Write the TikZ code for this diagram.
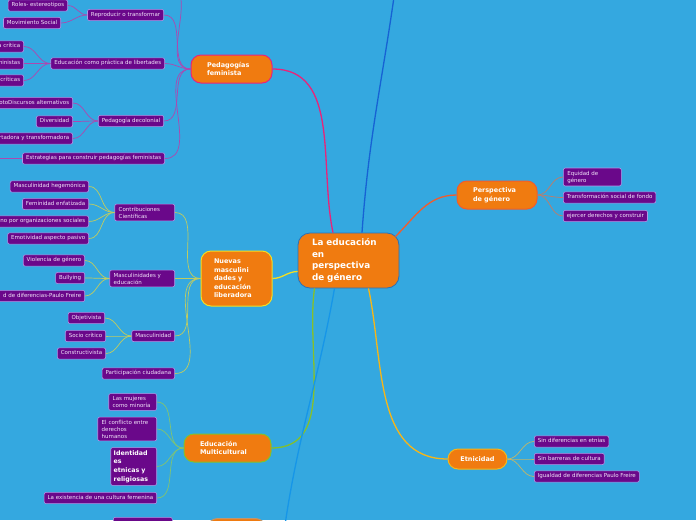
\documentclass[tikz,border=0pt]{standalone}
\usepackage{fontspec}
\setmainfont{DejaVu Sans}
\definecolor{bgblue}{RGB}{52,168,224}
\definecolor{leafbg}{RGB}{106,8,138}
\definecolor{leafline}{RGB}{176,150,232}
\definecolor{leaftext}{RGB}{242,228,250}
\definecolor{topicorange}{RGB}{240,123,16}
\definecolor{rootline}{RGB}{44,112,182}
\definecolor{pedpink}{RGB}{232,36,122}
\definecolor{pedchild}{RGB}{172,72,176}
\definecolor{mascyellow}{RGB}{242,222,36}
\definecolor{mascchild}{RGB}{192,204,96}
\definecolor{multigreen}{RGB}{132,192,44}
\definecolor{multichild}{RGB}{130,196,112}
\definecolor{persred}{RGB}{242,92,44}
\definecolor{perschild}{RGB}{192,124,104}
\definecolor{etnyellow}{RGB}{246,182,24}
\definecolor{etnchild}{RGB}{194,182,104}
\definecolor{topblue}{RGB}{22,98,212}
\definecolor{lowblue}{RGB}{22,150,232}
\definecolor{tanline}{RGB}{192,150,110}
\begin{document}
\begin{tikzpicture}[x=1pt,y=1pt,
  every node/.style={font=\fontsize{5.5}{7}\selectfont},
  leaf/.style={draw=leafline,fill=leafbg,text=leaftext,rounded corners=2pt,line width=0.6pt,
    inner xsep=3.5pt,inner ysep=3pt,text height=4pt,text depth=1.3pt},
  leafml/.style={draw=leafline,fill=leafbg,text=leaftext,rounded corners=2pt,line width=0.6pt,
    inner xsep=4pt,inner ysep=2.8pt,align=left,text width=#1},
  cutleaf/.style={leaf,text width=#1,align=right},
  topic/.style={fill=topicorange,rounded corners=10pt,line width=1pt,text=white,align=left,
    font=\bfseries\fontsize{6.5}{8.5}\selectfont},
  root/.style={fill=topicorange,draw=rootline,rounded corners=12pt,line width=0.8pt,text=white,align=left,
    font=\bfseries\fontsize{8.8}{11.5}\selectfont,inner xsep=14pt,text width=73pt,minimum height=55pt},
  mainline/.style={line width=1.3pt},
  childline/.style={line width=0.7pt}]
  \useasboundingbox (0,0) rectangle (696,-520);
  \fill[bgblue] (0,0) rectangle (696,-520);
  \clip (0,0) rectangle (696,-520);

  % Nodes: centre and topics
  \node[root] (root) at (348.5,-260.5) {La educación\\en\\perspectiva\\de género};
  \node[topic,draw=pedpink,inner xsep=16pt,text width=49pt,minimum height=28pt] (ped) at (231.5,-69) {Pedagogías\\feminista};
  \node[topic,draw=mascyellow,inner xsep=13pt,text width=45pt,minimum height=55pt] (masc) at (236.5,-278.5) {Nuevas\\masculini\\dades y\\educación\\liberadora};
  \node[topic,draw=multigreen,inner xsep=16pt,text width=55pt,minimum height=28pt] (multi) at (227.5,-448) {Educación\\Multicultural};
  \node[topic,draw=persred,inner xsep=16pt,text width=48pt,minimum height=28pt] (pers) at (497,-195) {Perspectiva\\de género};
  \node[topic,draw=etnyellow,align=center,minimum width=59pt,minimum height=20pt] (etn) at (477.5,-459) {Etnicidad};
  \node[topic,draw=tanline,anchor=north west,minimum width=58pt,minimum height=28pt] (lowtopic) at (207,-518) {};
  \coordinate (toptopic) at (395,10);
  \coordinate (bottopic) at (284,-532);

  % Nodes: Pedagogías feminista
  \node[leaf,anchor=east] (repro) at (164,-15) {Reproducir o transformar};
  \node[leaf,anchor=east] (roles) at (68,-5.5) {Roles- estereotipos};
  \node[leaf,anchor=east] (movi) at (61,-23) {Movimiento Social};
  \node[leaf,anchor=east] (libre) at (165,-63.5) {Educación como práctica de libertades};
  \node[cutleaf=60pt,anchor=east] (crit) at (24,-46.5) {a crítica};
  \node[cutleaf=60pt,anchor=east] (femi) at (24,-63.5) {ministas};
  \node[cutleaf=60pt,anchor=east] (crits) at (24,-80.5) {críticas};
  \node[leaf,anchor=east] (deco) at (164,-121) {Pedagogía decolonial};
  \node[cutleaf=110pt,anchor=east] (discu) at (73,-103) {otoDiscursos alternativos};
  \node[leaf,anchor=east] (diver) at (73,-121.5) {Diversidad};
  \node[cutleaf=110pt,anchor=east] (trans) at (73,-138.5) {rtadora y transformadora};
  \node[leaf,anchor=east] (estra) at (165,-158.5) {Estrategias para construir pedagogías feministas};
  \coordinate (pedup) at (168,14);
  \coordinate (estraout) at (-15,-158.5);

  % Nodes: Nuevas masculinidades
  \node[leafml=52pt,anchor=east] (contri) at (175,-212.5) {Contribuciones\\Científicas};
  \node[leaf,anchor=east] (hege) at (89,-186.5) {Masculinidad hegemónica};
  \node[leaf,anchor=east] (enfa) at (89,-204) {Feminidad enfatizada};
  \node[cutleaf=120pt,anchor=east] (orga) at (89,-221.5) {ino por organizaciones sociales};
  \node[leaf,anchor=east] (emoti) at (89,-238.5) {Emotividad aspecto pasivo};
  \node[leafml=57pt,anchor=east] (mased) at (175,-278.5) {Masculinidades y\\educación};
  \node[leaf,anchor=east] (viole) at (85,-260.5) {Violencia de género};
  \node[leaf,anchor=east] (bully) at (85,-278) {Bullying};
  \node[cutleaf=120pt,anchor=east] (difpf) at (85,-296) {d de diferencias-Paulo Freire};
  \node[leaf,anchor=east] (mascu) at (175,-336) {Masculinidad};
  \node[leaf,anchor=east] (objet) at (105,-318) {Objetivista};
  \node[leaf,anchor=east] (socio) at (106,-336) {Socio crítico};
  \node[leaf,anchor=east] (const) at (106,-353.5) {Constructivista};
  \node[leaf,anchor=east] (parti) at (175,-373.5) {Participación ciudadana};

  % Nodes: Educación Multicultural
  \node[leafml=40pt,anchor=east] (mujer) at (157,-402) {Las mujeres\\como minoría};
  \node[leafml=51pt,anchor=east] (confl) at (157,-429) {El conflicto entre\\derechos\\humanos};
  \node[leafml=40pt,anchor=east,inner xsep=3pt,text=white,font=\bfseries\fontsize{6.3}{8.7}\selectfont] (ident) at (157,-466.5) {Identidad\\es\\etnicas y\\religiosas};
  \node[leaf,anchor=east] (cultu) at (157,-498) {La existencia de una cultura femenina};
  \node[leafml=51pt,anchor=north west,minimum height=20pt] (lowleaf) at (113,-517) {};

  % Nodes: Perspectiva de género and Etnicidad
  \node[leafml=50pt,anchor=west] (equi) at (563,-177) {Equidad de\\género};
  \node[leaf,anchor=west] (tsoc) at (563,-197.5) {Transformación social de fondo};
  \node[leaf,anchor=west] (ejer) at (563,-216) {ejercer derechos y construir};
  \node[leaf,anchor=west] (setn) at (534,-441.5) {Sin diferencias en etnias};
  \node[leaf,anchor=west] (sbar) at (534,-459) {Sin barreras de cultura};
  \node[leaf,anchor=west] (igua) at (534,-476.5) {Igualdad de diferencias Paulo Freire};

  % Connectors from the centre
  \draw[mainline,pedpink] ([xshift=-15.5pt]root.north) to[out=102,in=0] (ped.east);
  \draw[mainline,topblue] ([xshift=13.5pt]root.north) to[out=86,in=-98] (toptopic);
  \draw[mainline,persred] ([xshift=-4pt,yshift=-4pt]root.north east) to[out=45,in=180] (pers.west);
  \draw[mainline,mascyellow] ([yshift=-11pt]root.west) to[out=180,in=0] (masc.east);
  \draw[mainline,multigreen] ([xshift=-34pt]root.south) to[out=-98,in=0] (multi.east);
  \draw[mainline,lowblue] ([xshift=-14pt]root.south) to[out=-100,in=82] (bottopic);
  \draw[mainline,etnyellow] ([xshift=20pt]root.south) to[out=-78,in=180] (etn.west);

  % Connectors: Pedagogías feminista
  \draw[childline,pedchild] (ped.west) to[out=180,in=0] (pedup);
  \draw[childline,pedchild] (ped.west) to[out=180,in=0] (repro.east);
  \draw[childline,pedchild] (ped.west) to[out=180,in=0] (libre.east);
  \draw[childline,pedchild] (ped.west) to[out=180,in=0] (deco.east);
  \draw[childline,pedchild] (ped.west) to[out=180,in=0] (estra.east);
  \draw[childline,pedchild] (repro.west) to[out=180,in=0] (roles.east);
  \draw[childline,pedchild] (repro.west) to[out=180,in=0] (movi.east);
  \draw[childline,pedchild] (libre.west) to[out=180,in=0] (crit.east);
  \draw[childline,pedchild] (libre.west) to[out=180,in=0] (femi.east);
  \draw[childline,pedchild] (libre.west) to[out=180,in=0] (crits.east);
  \draw[childline,pedchild] (deco.west) to[out=180,in=0] (discu.east);
  \draw[childline,pedchild] (deco.west) to[out=180,in=0] (diver.east);
  \draw[childline,pedchild] (deco.west) to[out=180,in=0] (trans.east);
  \draw[childline,pedchild] (estra.west) -- (estraout);

  % Connectors: Nuevas masculinidades
  \draw[childline,mascchild] (masc.west) to[out=180,in=0] (contri.east);
  \draw[childline,mascchild] (masc.west) to[out=180,in=0] (mased.east);
  \draw[childline,mascchild] (masc.west) to[out=180,in=0] (mascu.east);
  \draw[childline,mascchild] (masc.west) to[out=180,in=0] (parti.east);
  \draw[childline,mascchild] (contri.west) to[out=180,in=0] (hege.east);
  \draw[childline,mascchild] (contri.west) to[out=180,in=0] (enfa.east);
  \draw[childline,mascchild] (contri.west) to[out=180,in=0] (orga.east);
  \draw[childline,mascchild] (contri.west) to[out=180,in=0] (emoti.east);
  \draw[childline,mascchild] (mased.west) to[out=180,in=0] (viole.east);
  \draw[childline,mascchild] (mased.west) to[out=180,in=0] (bully.east);
  \draw[childline,mascchild] (mased.west) to[out=180,in=0] (difpf.east);
  \draw[childline,mascchild] (mascu.west) to[out=180,in=0] (objet.east);
  \draw[childline,mascchild] (mascu.west) to[out=180,in=0] (socio.east);
  \draw[childline,mascchild] (mascu.west) to[out=180,in=0] (const.east);

  % Connectors: Educación Multicultural
  \draw[childline,multichild] (multi.west) to[out=180,in=0] (mujer.east);
  \draw[childline,multichild] (multi.west) to[out=180,in=0] (confl.east);
  \draw[childline,multichild] (multi.west) to[out=180,in=0] (ident.east);
  \draw[childline,multichild] (multi.west) to[out=180,in=0] (cultu.east);

  % Connectors: Perspectiva de género and Etnicidad
  \draw[childline,perschild] (pers.east) to[out=0,in=180] (equi.west);
  \draw[childline,perschild] (pers.east) to[out=0,in=180] (tsoc.west);
  \draw[childline,perschild] (pers.east) to[out=0,in=180] (ejer.west);
  \draw[childline,etnchild] (etn.east) to[out=0,in=180] (setn.west);
  \draw[childline,etnchild] (etn.east) to[out=0,in=180] (sbar.west);
  \draw[childline,etnchild] (etn.east) to[out=0,in=180] (igua.west);
\end{tikzpicture}
\end{document}
